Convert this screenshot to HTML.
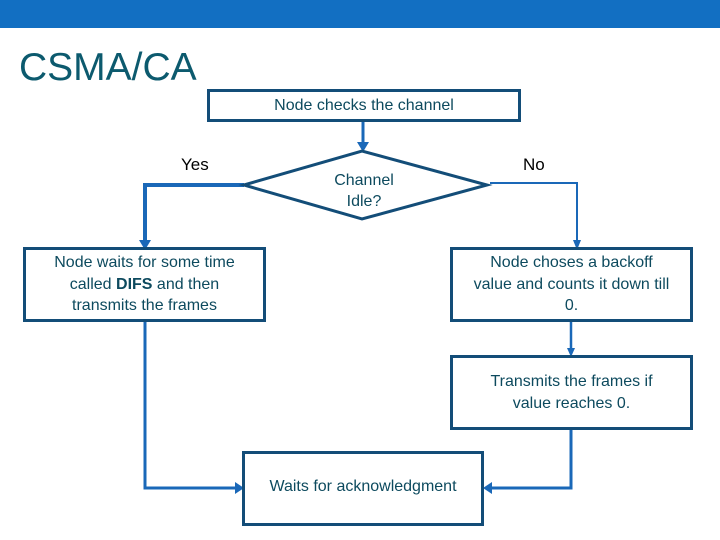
<!DOCTYPE html>
<html><head><style>
body{margin:0;width:720px;height:540px;background:#fff;overflow:hidden;position:relative;font-family:"Liberation Sans",Arial,sans-serif}
.bar{position:absolute;left:0;top:0;width:720px;height:28px;background:#126fc2}
.t{position:absolute;left:19px;top:46px;font-size:39px;color:#0c5a6e}
.b{position:absolute;border:3px solid #134d78;box-sizing:border-box;display:flex;align-items:center;justify-content:center;text-align:center;font-size:16px;color:#0d4a5e;line-height:21.5px}
.l{position:absolute;font-size:17px;color:#000}
</style></head><body>
<div class="bar"></div>
<div class="t">CSMA/CA</div>
<svg width="720" height="540" style="position:absolute;left:0;top:0">
<g stroke="#1a68b8" fill="none">
<line x1="363" y1="120" x2="363" y2="144" stroke-width="3"/>
<polyline points="244,185 145,185 145,242" stroke-width="4"/>
<polyline points="490,183 577,183 577,242" stroke-width="2"/>
<line x1="571" y1="320" x2="571" y2="350" stroke-width="2.5"/>
<polyline points="145,320 145,488 237,488" stroke-width="3"/>
<polyline points="571,428 571,488 489,488" stroke-width="3"/>
</g>
<g fill="#1a68b8">
<polygon points="357,142 369,142 363,152"/>
<polygon points="139,240 151,240 145,250"/>
<polygon points="573,240 581,240 577,250"/>
<polygon points="567,348 575,348 571,357"/>
<polygon points="235,482 235,494 244,488"/>
<polygon points="492,482 492,494 483,488"/>
</g>
<polygon points="244,185 362,151 487,185 362,219" fill="#fff" stroke="#134d78" stroke-width="3"/>
<text x="364" y="185" text-anchor="middle" font-size="16" fill="#0d4a5e" font-family="Liberation Sans">Channel</text>
<text x="364" y="206" text-anchor="middle" font-size="16" fill="#0d4a5e" font-family="Liberation Sans">Idle?</text>
</svg>
<div class="b" style="left:207px;top:89px;width:314px;height:33px"><div>Node checks the channel</div></div>
<div class="l" style="left:181px;top:155px">Yes</div>
<div class="l" style="left:523px;top:155px">No</div>
<div class="b" style="left:23px;top:247px;width:243px;height:75px"><div>Node waits for some time<br>called <b>DIFS</b> and then<br>transmits the frames</div></div>
<div class="b" style="left:450px;top:247px;width:243px;height:75px"><div>Node choses a backoff<br>value and counts it down till<br>0.</div></div>
<div class="b" style="left:450px;top:355px;width:243px;height:75px"><div>Transmits the frames if<br>value reaches 0.</div></div>
<div class="b" style="left:242px;top:451px;width:242px;height:75px;padding-bottom:4px"><div>Waits for acknowledgment</div></div>
</body></html>
